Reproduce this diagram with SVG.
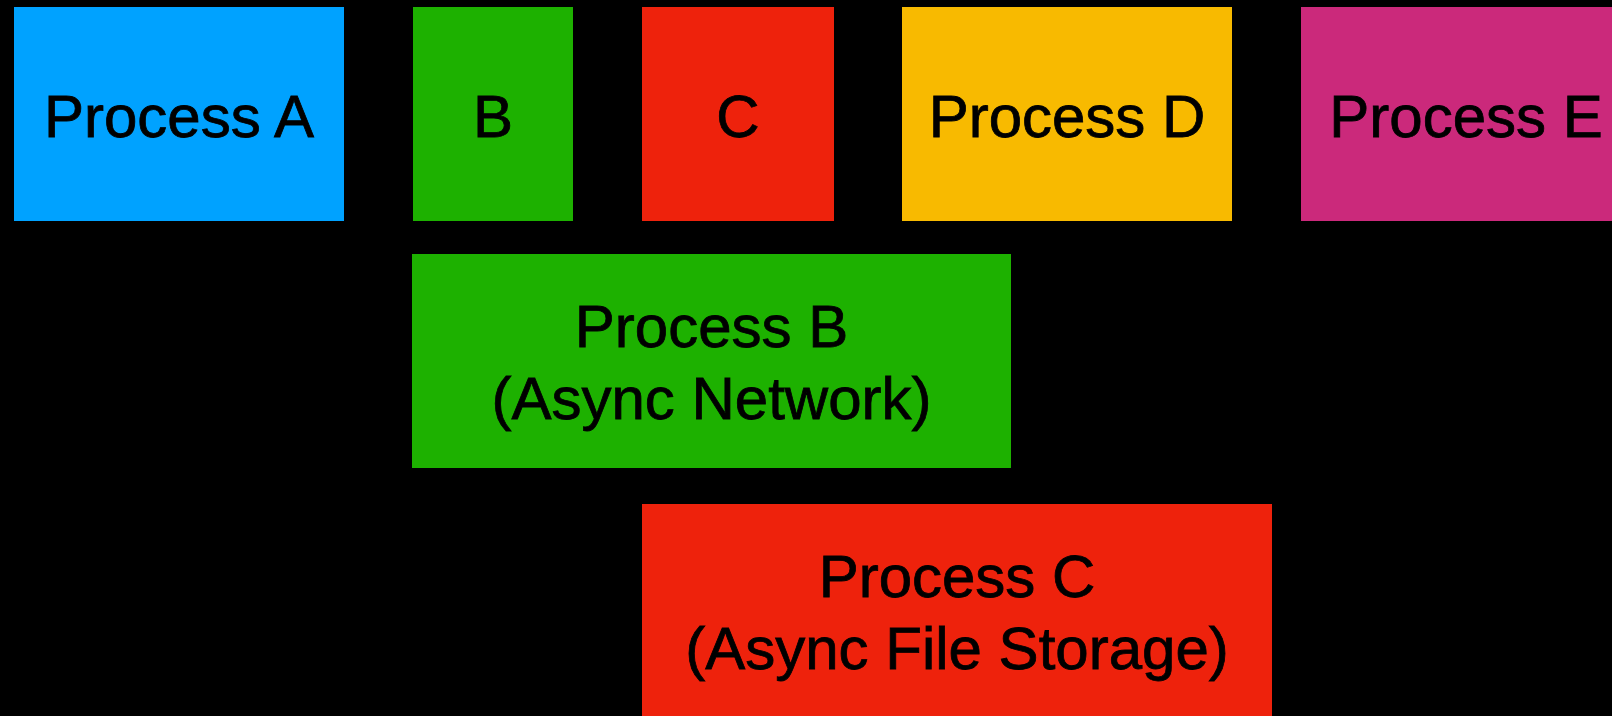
<svg xmlns="http://www.w3.org/2000/svg" width="1612" height="716" viewBox="0 0 1612 716">
<style>
text{font-family:"Liberation Sans",Arial,Helvetica,sans-serif;font-size:60px;fill:#000;stroke:#000;stroke-width:0.8;text-anchor:middle}
.blue{fill:#00A2FF}.green{fill:#1DB100}.red{fill:#EE220C}.yellow{fill:#F8BA00}.pink{fill:#CB297B}
</style>
<rect width="1612" height="716" fill="#000"/>
<g id="process-a"><rect class="blue" x="14" y="7" width="330" height="214"/><text x="179" y="137">Process A</text></g>
<g id="b"><rect class="green" x="413" y="7" width="160" height="214"/><text x="493" y="137">B</text></g>
<g id="c"><rect class="red" x="642" y="7" width="192" height="214"/><text x="738" y="137">C</text></g>
<g id="process-d"><rect class="yellow" x="902" y="7" width="330" height="214"/><text x="1067" y="137">Process D</text></g>
<g id="process-e"><rect class="pink" x="1301" y="7" width="320" height="214"/><text x="1466" y="137">Process E</text></g>
<g id="process-b"><rect class="green" x="412" y="254" width="599" height="214"/><text x="711.5" y="347">Process B</text><text x="711.5" y="419">(Async Network)</text></g>
<g id="process-c"><rect class="red" x="642" y="504" width="630" height="220"/><text x="957" y="597">Process C</text><text x="957" y="669">(Async File Storage)</text></g>
<g id="connectors"></g>
</svg>
